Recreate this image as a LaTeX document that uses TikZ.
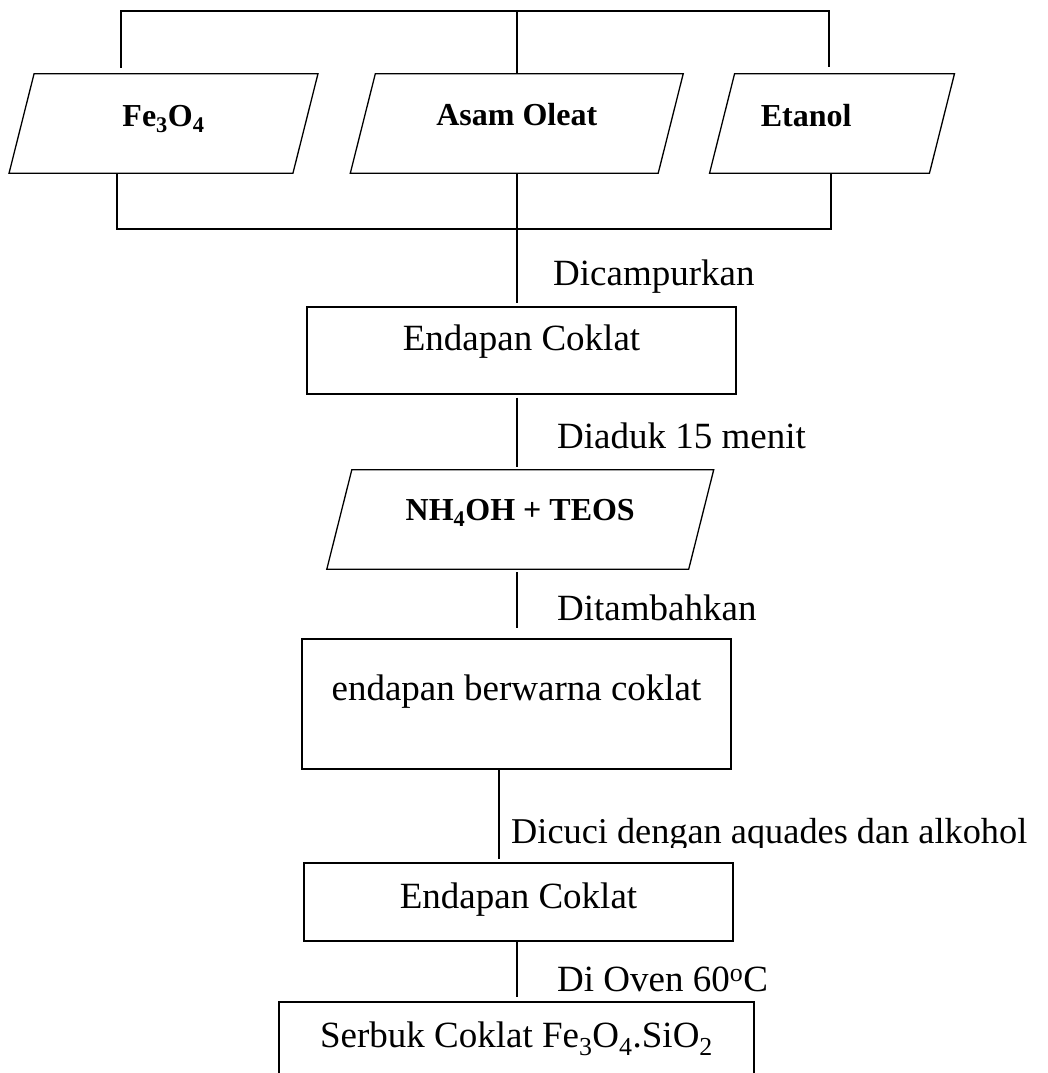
\documentclass[tikz,border=0pt]{standalone}
\usepackage{fontspec}
\setmainfont{Liberation Serif}

% outline of a slanted (input/output) box around a named node
\newcommand\slantbox[2][12.5pt]{%
  \draw[shapeline] ([xshift=#1]#2.north west) -- ([xshift=#1]#2.north east)
    -- ([xshift=-#1]#2.south east) -- ([xshift=-#1]#2.south west) -- cycle;}

\begin{document}
\begin{tikzpicture}[x=1pt,y=-1pt,
  shapeline/.style={line width=1.3pt},
  lbl/.style={anchor=base west, inner sep=0pt, font=\fontsize{37}{44}\selectfont},
  box/.style={draw, shapeline, anchor=base, inner sep=0pt, font=\fontsize{37}{44}\selectfont},
  para/.style={anchor=base, inner sep=0pt, font=\bfseries\fontsize{32}{38}\selectfont},
  flow/.style={line width=1.5pt},
  bracket/.style={line width=1.8pt}]

\useasboundingbox (0,0) rectangle (1048,1073);
\clip (0,0) rectangle (1048,1073);

% starting materials
\node[para, minimum width=283.5pt, text height=52pt, text depth=47pt] (fe) at (163.5,126) {Fe\textsubscript{3}O\textsubscript{4}};
\node[para, minimum width=307.5pt, text height=51pt, text depth=48pt] (ao) at (516.75,125) {Asam Oleat};
\node[para, text width=142.5pt, inner xsep=38.5pt, align=left, text height=52pt, text depth=47pt] (et) at (832,126) {Etanol};
\slantbox{fe}
\slantbox{ao}
\slantbox{et}

% process steps
\node[box, minimum width=429pt, text height=43pt, text depth=44pt] (e1) at (521.5,350) {Endapan Coklat};
\node[para, minimum width=361.5pt, text height=50pt, text depth=49pt] (nh) at (520.25,520) {NH\textsubscript{4}OH + TEOS};
\slantbox{nh}
\node[box, minimum width=429pt, text height=61pt, text depth=69pt] (e2) at (516.5,700) {endapan berwarna coklat};
\node[box, minimum width=429pt, text height=45pt, text depth=33pt] (e3) at (518.5,908) {Endapan Coklat};
\node[box, minimum width=475pt, text height=45pt, text depth=60pt] (e4) at (516.5,1047) {Serbuk Coklat Fe\textsubscript{3}O\textsubscript{4}.SiO\textsubscript{2}};

% bracket joining the three inputs
\coordinate (tl) at (121,11);
\coordinate (tr) at (829,11);
\coordinate (tlend) at (121,68);
\coordinate (trend) at (829,67);
\coordinate (spine) at (517,11);
\coordinate (bl) at (117,229);
\coordinate (br) at (831,229);
\coordinate (wash) at (499,0);

\draw[bracket] (tlend) -- (tl) -- (tr) -- (trend);
\draw[bracket] (spine) -- (spine |- ao.north);
\draw[bracket] (fe.south -| bl) -- (bl) -- (br) -- (br |- et.south);

% flow between steps
\draw[flow, shorten >=3pt] (spine |- ao.south) -- (spine |- e1.north);
\draw[flow, shorten <=3pt, shorten >=3pt] (spine |- e1.south) -- (spine |- nh.north);
\draw[flow, shorten <=3pt, shorten >=10pt] (spine |- nh.south) -- (spine |- e2.north);
\draw[flow, shorten >=3pt] (e2.south -| wash) -- (e3.north -| wash);
\draw[flow, shorten >=4pt] (spine |- e3.south) -- (spine |- e4.north);

% step labels
\node[lbl] (l1) at (553,285) {Dicampurkan};
\node[lbl] (l2) at (557,448) {Diaduk 15 menit};
\node[lbl] (l3) at (557,620) {Ditambahkan};
\begin{scope}
  \clip (0,0) rectangle (1048,847);
  \node[lbl, font=\fontsize{36.3}{44}\selectfont] (l4) at (511,843) {Dicuci dengan aquades dan alkohol};
\end{scope}
\node[lbl] (l5) at (557,991) {Di Oven 60\textsuperscript{o}C};
\end{tikzpicture}
\end{document}
